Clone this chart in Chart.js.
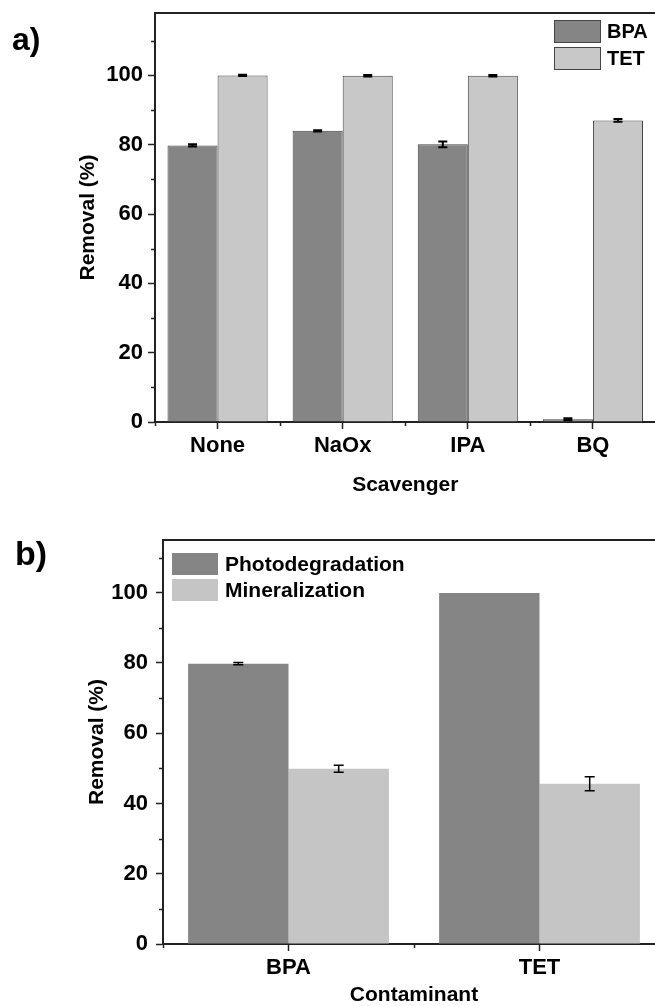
<!DOCTYPE html>
<html>
<head>
<meta charset="utf-8">
<script src="https://cdn.jsdelivr.net/npm/chart.js@4.4.0/dist/chart.umd.min.js"></script>
<style>
  body { margin: 0; width: 655px; height: 1006px; overflow: hidden; background: #fff; position: relative; }
  canvas { position: absolute; left: 0; }
  #chartA { top: 0; }
  #chartB { top: 500px; }
</style>
</head>
<body>
<canvas id="chartA" width="660" height="500"></canvas>
<canvas id="chartB" width="670" height="506"></canvas>
<script>
// a) removal with different scavengers
const scavengers = ["None", "NaOx", "IPA", "BQ"];
const bpaRemoval = [79.8, 84.0, 80.1, 0.8];
const bpaError = [0.3, 0.2, 0.8, 0.3];
const tetRemoval = [100, 99.9, 99.9, 87.0];
const tetError = [0.2, 0.2, 0.2, 0.4];

// b) photodegradation vs mineralization
const contaminants = ["BPA", "TET"];
const photodegradation = [79.8, 99.9];
const photoError = [0.3, 0];
const mineralization = [49.9, 45.6];
const mineralError = [1.0, 2.0];

Chart.defaults.font.family = "'Liberation Sans', Arial, sans-serif";
Chart.defaults.font.weight = "bold";
Chart.defaults.color = "#000";

const errorBars = {
    id: "errorBars",
    afterDatasetsDraw(chart, args, opts) {
        const { ctx } = chart;
        const y = chart.scales.y;
        ctx.save();
        ctx.strokeStyle = "#000";
        ctx.lineWidth = opts.lineWidth;
        chart.data.datasets.forEach((ds, i) => {
            const meta = chart.getDatasetMeta(i);
            meta.data.forEach((bar, j) => {
                const err = ds.errors[j];
                if (!err) return;
                const top = y.getPixelForValue(ds.data[j] + err);
                const bot = y.getPixelForValue(ds.data[j] - err);
                const hw = opts.capWidth / 2;
                ctx.beginPath();
                ctx.moveTo(bar.x, top);
                ctx.lineTo(bar.x, bot);
                ctx.moveTo(bar.x - hw, top);
                ctx.lineTo(bar.x + hw, top);
                ctx.moveTo(bar.x - hw, bot);
                ctx.lineTo(bar.x + hw, bot);
                ctx.stroke();
            });
        });
        ctx.restore();
    },
};

// top frame line plus the minor ticks on both axes
const frame = {
    id: "frame",
    afterDraw(chart, args, opts) {
        const { ctx, chartArea } = chart;
        const { left, top, right, bottom } = chartArea;
        const x = chart.scales.x;
        const y = chart.scales.y;
        ctx.save();
        ctx.strokeStyle = "#222";
        ctx.lineWidth = 2;
        ctx.beginPath();
        ctx.moveTo(left - 1, top);
        ctx.lineTo(right, top);
        ctx.stroke();

        ctx.lineWidth = 1.5;
        ctx.beginPath();
        for (let v = opts.minorStep; v < y.max; v += opts.minorStep * 2) {
            const py = Math.round(y.getPixelForValue(v)) + 0.5;
            ctx.moveTo(left, py);
            ctx.lineTo(left - 4, py);
        }
        const n = x.ticks.length;
        const w = (right - left) / n;
        for (let i = 0; i <= n; i++) {
            const px = Math.round(left + i * w) + 0.5;
            ctx.moveTo(px, bottom);
            ctx.lineTo(px, bottom + 4);
        }
        ctx.stroke();
        ctx.restore();
    },
};

const innerLegend = {
    id: "innerLegend",
    afterDraw(chart, args, opts) {
        const { ctx } = chart;
        ctx.save();
        ctx.font = opts.font;
        ctx.textBaseline = "middle";
        chart.data.datasets.forEach((ds, i) => {
            const bx = opts.x;
            const by = opts.y + i * opts.rowHeight;
            ctx.fillStyle = ds.backgroundColor;
            ctx.fillRect(bx, by, opts.boxWidth, opts.boxHeight);
            if (opts.boxBorder) {
                ctx.strokeStyle = opts.boxBorder;
                ctx.lineWidth = 1;
                ctx.strokeRect(bx + 0.5, by + 0.5, opts.boxWidth - 1, opts.boxHeight - 1);
            }
            ctx.fillStyle = "#000";
            ctx.fillText(ds.label, bx + opts.boxWidth + opts.gap, by + opts.boxHeight / 2 + 1);
        });
        ctx.restore();
    },
};

const panelTag = {
    id: "panelTag",
    afterDraw(chart, args, opts) {
        const { ctx } = chart;
        ctx.save();
        ctx.font = opts.font;
        ctx.fillStyle = "#000";
        ctx.textBaseline = "alphabetic";
        ctx.fillText(opts.text, opts.x, opts.y);
        ctx.restore();
    },
};

const noOverhang = (scale) => {
    scale.paddingTop = 0;
    scale.paddingBottom = 0;
    scale.paddingLeft = 0;
    scale.paddingRight = 0;
};

const makeScales = (s) => ({
    x: {
        border: { color: "#222", width: 2 },
        grid: { offset: false, drawOnChartArea: false, tickLength: 7, tickColor: "#222", tickWidth: 1.5 },
        ticks: { padding: 4, font: { size: 22, weight: "bold" } },
        title: { display: true, text: s.xTitle, font: { size: 21, weight: "bold" }, padding: { top: 0, bottom: s.xTitlePad } },
        afterFit: (scale) => {
            scale.height = s.xHeight;
            noOverhang(scale);
        },
    },
    y: {
        min: 0,
        max: s.yMax,
        border: { color: "#222", width: 2 },
        grid: { drawOnChartArea: false, tickLength: 7, tickColor: "#222", tickWidth: 1.5 },
        ticks: { stepSize: 20, includeBounds: false, padding: s.yTickPad, font: { size: 22, weight: "bold" } },
        title: { display: true, text: "Removal (%)", font: { size: 21, weight: "bold" }, padding: { top: s.yTitlePad, bottom: 0 } },
        afterFit: (scale) => {
            scale.width = s.yWidth;
            noOverhang(scale);
        },
    },
});

new Chart(document.getElementById("chartA"), {
    type: "bar",
    data: {
        labels: scavengers,
        datasets: [
            {
                label: "BPA",
                data: bpaRemoval,
                errors: bpaError,
                backgroundColor: "#858585",
                borderColor: "#444",
                borderWidth: 1,
            },
            {
                label: "TET",
                data: tetRemoval,
                errors: tetError,
                backgroundColor: "#c8c8c8",
                borderColor: "#444",
                borderWidth: 1,
            },
        ],
    },
    options: {
        responsive: false,
        animation: false,
        devicePixelRatio: 1,
        categoryPercentage: 0.8,
        barPercentage: 1.0,
        layout: { padding: { top: 13, right: 4.5, left: 0, bottom: 0 } },
        scales: makeScales({ xTitle: "Scavenger", xTitlePad: 2.4, xHeight: 78, yMax: 118, yTickPad: 5, yTitlePad: 75.4, yWidth: 155 }),
        plugins: {
            legend: { display: false },
            tooltip: { enabled: false },
            errorBars: { lineWidth: 2, capWidth: 9 },
            frame: { minorStep: 10 },
            innerLegend: { x: 554, y: 20, rowHeight: 27, boxWidth: 47, boxHeight: 23, gap: 6, boxBorder: "#444", font: "bold 20px 'Liberation Sans', Arial, sans-serif" },
            panelTag: { text: "a)", x: 12, y: 50, font: "bold 32px 'Liberation Sans', Arial, sans-serif" },
        },
    },
    plugins: [errorBars, frame, innerLegend, panelTag],
});

new Chart(document.getElementById("chartB"), {
    type: "bar",
    data: {
        labels: contaminants,
        datasets: [
            {
                label: "Photodegradation",
                data: photodegradation,
                errors: photoError,
                backgroundColor: "#858585",
                borderWidth: 0,
            },
            {
                label: "Mineralization",
                data: mineralization,
                errors: mineralError,
                backgroundColor: "#c5c5c5",
                borderWidth: 0,
            },
        ],
    },
    options: {
        responsive: false,
        animation: false,
        devicePixelRatio: 1,
        categoryPercentage: 0.8,
        barPercentage: 1.0,
        layout: { padding: { top: 40, right: 5, left: 0, bottom: 0 } },
        scales: makeScales({ xTitle: "Contaminant", xTitlePad: -1.6, xHeight: 62, yMax: 115, yTickPad: 8, yTitlePad: 84.4, yWidth: 163 }),
        plugins: {
            legend: { display: false },
            tooltip: { enabled: false },
            errorBars: { lineWidth: 1.5, capWidth: 10 },
            frame: { minorStep: 10 },
            innerLegend: { x: 172, y: 53, rowHeight: 26, boxWidth: 46, boxHeight: 22, gap: 7, font: "bold 21px 'Liberation Sans', Arial, sans-serif" },
            panelTag: { text: "b)", x: 15, y: 65, font: "bold 34px 'Liberation Sans', Arial, sans-serif" },
        },
    },
    plugins: [errorBars, frame, innerLegend, panelTag],
});
</script>
</body>
</html>
